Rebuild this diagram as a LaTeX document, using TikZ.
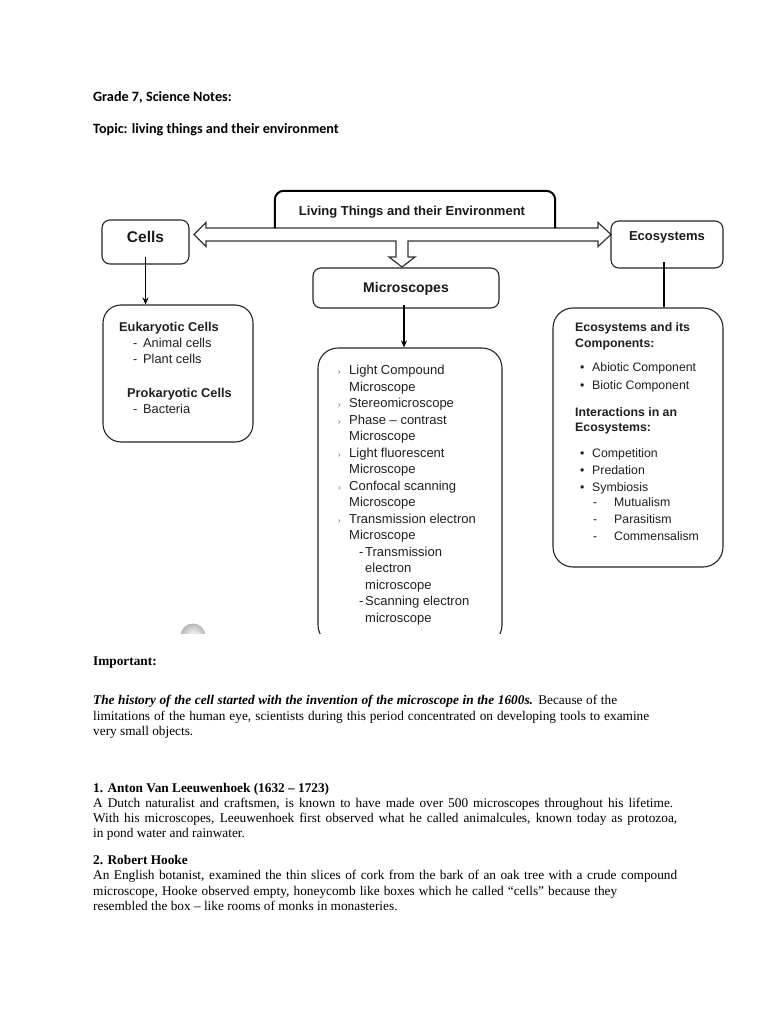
\documentclass[tikz,border=0pt]{standalone}
\usepackage{fontspec}
\setmainfont{Liberation Serif}
\newfontfamily\arialf{Liberation Sans}
\newfontfamily\calibrif{Carlito}
\usetikzlibrary{arrows.meta}
\newcommand{\fitto}[2]{\makebox[#1][s]{#2}}
\begin{document}
\begin{tikzpicture}[x=1pt,y=-1pt,
  box/.style={draw=black!85, line width=1.1pt, rounded corners=8pt, inner sep=0pt},
  bigbox/.style={draw=black!85, line width=1.1pt, rounded corners=20pt, inner sep=0pt},
  ghost/.style={inner sep=0pt},
  conn/.style={draw=black, line width=1.4pt},
  arr/.style={conn, -{Stealth[length=7pt,width=6pt]}},
  blockarrow/.style={draw=black!80, line width=1.2pt, fill=white, line join=miter},
  lbl/.style={inner sep=0pt, text=black!90},
  t/.style={anchor=base west, inner sep=0pt, text=black!88, font=\arialf\fontsize{12.8}{14}\selectfont},
  tb/.style={t, font=\arialf\bfseries\fontsize{12.8}{14}\selectfont},
  tr/.style={anchor=base west, inner sep=0pt, text=black!88, font=\arialf\fontsize{12.3}{14}\selectfont},
  trb/.style={tr, font=\arialf\bfseries\fontsize{12.3}{14}\selectfont},
  tm/.style={anchor=base west, inner sep=0pt, text=black!88, font=\arialf\fontsize{13}{15}\selectfont},
  mbul/.style={anchor=base west, inner sep=0pt, text=black!60, font=\arialf\fontsize{8}{9}\selectfont},
  hdr/.style={anchor=base west, inner sep=0pt, font=\calibrif\bfseries\fontsize{14.2}{16}\selectfont},
  body/.style={anchor=base west, inner sep=0pt, font=\fontsize{13.3}{15}\selectfont},
  bodyb/.style={body, font=\bfseries\fontsize{13.3}{15}\selectfont}
]
\useasboundingbox[fill=white] (0,0) rectangle (768,1024);

% header
\node[hdr] (h1) at (93,102) {Grade 7, Science Notes:};
\node[hdr] (h2) at (93,134) {Topic: living things and their environment};

% block arrow (double-headed with downward branch)
\draw[blockarrow] (194,234.5) -- (206,222.5) -- (206,228) -- (598,228) -- (598,222.5)
  -- (611,234.5) -- (598,246.5) -- (598,241) -- (408,241) -- (408,257) -- (415,257)
  -- (402,267) -- (389,257) -- (396,257) -- (396,241) -- (206,241) -- (206,246.5) -- cycle;

% top box
\node[ghost, minimum width=280pt, minimum height=37pt] (top) at (415,209.5) {};
\draw[draw=black, line width=2pt, rounded corners=9pt] (top.south west) |- (top.north east) -- (top.south east);
\node[lbl, font=\arialf\bfseries\fontsize{13}{15}\selectfont] (topT) at (412,212) {Living Things and their Environment};

% small boxes
\node[box, minimum width=87pt, minimum height=44pt] (cells) at (145.5,242) {};
\node[lbl, font=\arialf\bfseries\fontsize{15.5}{17}\selectfont] (cellsT) at ([yshift=5pt]cells.center) {Cells};

\node[box, minimum width=112pt, minimum height=47pt] (eco) at (667,244.5) {};
\node[lbl, font=\arialf\bfseries\fontsize{13}{15}\selectfont] (ecoT) at ([yshift=7.5pt]eco.center) {Ecosystems};

\node[box, minimum width=186pt, minimum height=40pt] (micro) at (406,288) {};
\node[lbl, font=\arialf\bfseries\fontsize{14}{16}\selectfont] (microT) at ([yshift=-1pt]micro.center) {Microscopes};

% big boxes
\node[bigbox, minimum width=150pt, minimum height=137pt, rounded corners=18pt] (lbox) at (178,373.5) {};
\node[bigbox, minimum width=170pt, minimum height=259pt] (rbox) at (638,437.5) {};
\begin{scope}
  \clip (100,330) rectangle (560,633);
  \node[bigbox, minimum width=184pt, minimum height=297pt] (mbox) at (410,496.5) {};
  \shade[inner color=white, outer color=black!28] (193,636) circle (12.5);
\end{scope}

% connectors
\draw[arr] ([yshift=8pt]cells.south) -- (cells.south |- lbox.north);
\draw[arr] ([yshift=4pt,xshift=-2pt]micro.south) -- ([xshift=-2pt]micro.south |- mbox.north);
\draw[conn] ([yshift=7pt,xshift=-3pt]eco.south) -- ([xshift=-3pt]eco.south |- rbox.north);

% left box text
\node[tb] (l1) at (119,331) {Eukaryotic Cells};
\node[t] (l2d) at (133,347) {-};
\node[t] (l2) at (143,347) {Animal cells};
\node[t] (l3d) at (133,363.5) {-};
\node[t] (l3) at (143,363.5) {Plant cells};
\node[tb] (l4) at (127,397) {Prokaryotic Cells};
\node[t] (l5d) at (133,413) {-};
\node[t] (l5) at (143,413) {Bacteria};

% middle box text
\node[mbul] (b0) at (338,374.5) {›};
\node[tm] (m0) at (349,374.5) {Light Compound};
\node[tm] (m1) at (349,391) {Microscope};
\node[mbul] (b2) at (338,407.5) {›};
\node[tm] (m2) at (349,407.5) {Stereomicroscope};
\node[mbul] (b3) at (338,424) {›};
\node[tm] (m3) at (349,424) {Phase – contrast};
\node[tm] (m4) at (349,440.5) {Microscope};
\node[mbul] (b5) at (338,457) {›};
\node[tm] (m5) at (349,457) {Light fluorescent};
\node[tm] (m6) at (349,473.5) {Microscope};
\node[mbul] (b7) at (338,490) {›};
\node[tm] (m7) at (349,490) {Confocal scanning};
\node[tm] (m8) at (349,506.5) {Microscope};
\node[mbul] (b9) at (338,523) {›};
\node[tm] (m9) at (349,523) {Transmission electron};
\node[tm] (m10) at (349,539.5) {Microscope};
\node[tm] (m11d) at (359,556) {-};
\node[tm] (m11) at (365,556) {Transmission};
\node[tm] (m12) at (365,572.5) {electron};
\node[tm] (m13) at (365,589) {microscope};
\node[tm] (m14d) at (359,605.5) {-};
\node[tm] (m14) at (365,605.5) {Scanning electron};
\node[tm] (m15) at (365,622) {microscope};

% right box text
\node[trb] (r1) at (575,331.5) {Ecosystems and its};
\node[trb] (r2) at (575,347.5) {Components:};
\node[tr] (r3b) at (580,371.5) {•};
\node[tr] (r3) at (592,371.5) {Abiotic Component};
\node[tr] (r4b) at (580,389.5) {•};
\node[tr] (r4) at (592,389.5) {Biotic Component};
\node[trb] (r5) at (575,416.5) {Interactions in an};
\node[trb] (r6) at (575,431.5) {Ecosystems:};
\node[tr] (r7b) at (580,457.5) {•};
\node[tr] (r7) at (592,457.5) {Competition};
\node[tr] (r8b) at (580,474.5) {•};
\node[tr] (r8) at (592,474.5) {Predation};
\node[tr] (r9b) at (580,491.5) {•};
\node[tr] (r9) at (592,491.5) {Symbiosis};
\node[tr] (r10d) at (593,506.5) {-};
\node[tr] (r10) at (614,506.5) {Mutualism};
\node[tr] (r11d) at (593,523.5) {-};
\node[tr] (r11) at (614,523.5) {Parasitism};
\node[tr] (r12d) at (593,540.5) {-};
\node[tr] (r12) at (614,540.5) {Commensalism};

% body text
\node[bodyb] (imp) at (93,665.5) {Important:};
\node[body] (p1) at (93,704) {\fitto{524pt}{{\bfseries\itshape The history of the cell started with the invention of the microscope in the 1600s.} Because of the}};
\node[body] (p2) at (93,720) {\fitto{556pt}{limitations of the human eye, scientists during this period concentrated on developing tools to examine}};
\node[body] (p3) at (93,735.5) {very small objects.};

\node[bodyb] (s1) at (93,792.5) {1. Anton Van Leeuwenhoek (1632 – 1723)};
\node[body] (s1a) at (93,807) {\fitto{580pt}{A Dutch naturalist and craftsmen, is known to have made over 500 microscopes throughout his lifetime.}};
\node[body] (s1b) at (93,822) {\fitto{584pt}{With his microscopes, Leeuwenhoek first observed what he called animalcules, known today as protozoa,}};
\node[body] (s1c) at (93,837) {in pond water and rainwater.};

\node[bodyb] (s2) at (93,864) {2. Robert Hooke};
\node[body] (s2a) at (93,879.5) {\fitto{584pt}{An English botanist, examined the thin slices of cork from the bark of an oak tree with a crude compound}};
\node[body] (s2b) at (93,895) {\fitto{524pt}{microscope, Hooke observed empty, honeycomb like boxes which he called “cells” because they}};
\node[body] (s2c) at (93,910.5) {resembled the box – like rooms of monks in monasteries.};
\end{tikzpicture}
\end{document}
